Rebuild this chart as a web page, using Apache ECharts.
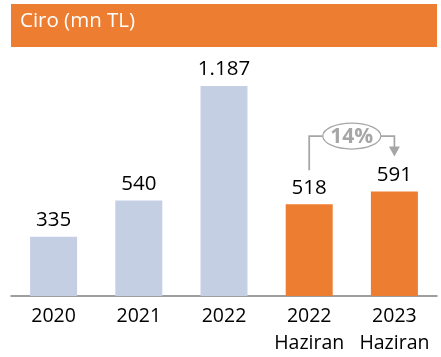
<!DOCTYPE html>
<html><head><meta charset="utf-8">
<script src="https://cdn.jsdelivr.net/npm/echarts@6/dist/echarts.min.js"></script>
<style>html,body{margin:0;padding:0;background:#fff}#c{width:441px;height:357px}</style>
</head><body><div id="c"></div>
<script>
const categories = ['2020', '2021', '2022', '2022\nHaziran', '2023\nHaziran'];
const values = [335, 540, 1187, 518, 591];
const colors = ['#C5CFE3', '#C5CFE3', '#C5CFE3', '#ED7D31', '#ED7D31'];
const growthLabel = '14%';
const titleText = 'Ciro (mn TL)';

const chart = echarts.init(document.getElementById('c'));
const fmt = v => v.toLocaleString('de-DE');
chart.setOption({
  animation: false,
  grid: {left: 11, right: 4, top: 86, bottom: 59},
  xAxis: {
    type: 'category', data: categories,
    axisLine: {lineStyle: {color: '#7F7F7F', width: 1.5}},
    axisTick: {show: false},
    axisLabel: {interval: 0, hideOverlap: false, color: '#000', fontSize: 19.5, fontFamily: 'Open Sans, sans-serif', lineHeight: 27, margin: 7}
  },
  yAxis: {type: 'value', min: 0, max: 1187, show: false, splitLine: {show: false}},
  series: [{
    type: 'bar', barWidth: 47,
    data: values.map((v, i) => ({value: v, itemStyle: {color: colors[i]}})),
    label: {show: true, position: 'top', distance: 6, color: '#000', fontSize: 20.5,
      fontFamily: 'Open Sans, sans-serif', formatter: p => fmt(p.value)}
  }]
});

function drawAnnot() {
  const a = chart.convertToPixel({seriesIndex: 0}, [3, values[3]]);
  const b = chart.convertToPixel({seriesIndex: 0}, [4, values[4]]);
  const xl = a[0], xr = b[0];
  const ya = a[1] - 34, yb = b[1] - 35;
  const yTop = 136;
  const cx = (xl + xr) / 2;
  const rx = 29, ry = 13;
  const g = '#A6A6A6';
  chart.setOption({graphic: [
    {type: 'rect', left: 11, top: 4, shape: {width: 426, height: 43}, style: {fill: '#ED7D31'}},
    {type: 'text', left: 20, top: 11, style: {text: titleText, fill: '#fff', fontSize: 20.5, fontFamily: 'Open Sans, sans-serif'}},
    {type: 'polyline', shape: {points: [[xl, ya], [xl, yTop], [cx - rx, yTop]]}, style: {stroke: g, lineWidth: 1.75, fill: null}},
    {type: 'polyline', shape: {points: [[cx + rx, yTop], [xr, yTop], [xr, yb - 8]]}, style: {stroke: g, lineWidth: 1.75, fill: null}},
    {type: 'polygon', shape: {points: [[xr - 5.5, yb - 10], [xr + 5.5, yb - 10], [xr, yb]]}, style: {fill: g}},
    {type: 'ellipse', shape: {cx: cx, cy: yTop, rx: rx, ry: ry}, style: {fill: '#fff', stroke: g, lineWidth: 1.25}},
    {type: 'text', x: cx, y: yTop + 1, style: {text: growthLabel, fill: g, fontSize: 21, fontWeight: 'bold', fontFamily: 'Open Sans, sans-serif', align: 'center', verticalAlign: 'middle'}}
  ]});
}
drawAnnot();
</script></body></html>
